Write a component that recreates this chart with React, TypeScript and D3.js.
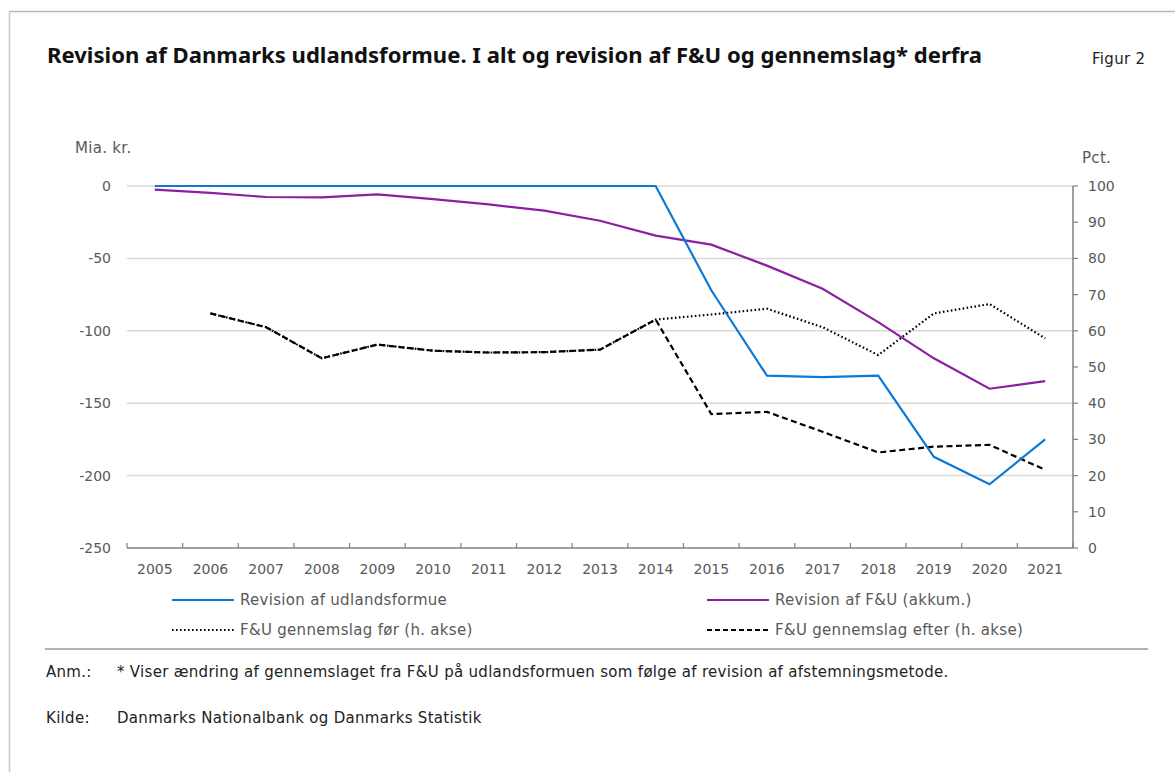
import * as d3 from "d3";

const years = [
  2005, 2006, 2007, 2008, 2009, 2010, 2011, 2012, 2013, 2014, 2015, 2016, 2017, 2018, 2019, 2020, 2021,
];

// Mia. kr. (venstre akse)
const revisionUdland = [0, 0, 0, 0, 0, 0, 0, 0, 0, 0, -72, -131, -132, -131, -187, -206, -175];
const revisionFU = [-2.5, -4.8, -7.6, -7.8, -5.8, -9, -12.7, -17, -24, -34.3, -40.5, -55, -71, -94, -119, -140, -134.7];

// Pct. (højre akse), 2005 mangler
const gennemslagFoer = [null, 64.8, 61, 52.4, 56.2, 54.5, 54, 54.1, 54.8, 63.1, 64.5, 66.1, 61, 53.3, 64.8, 67.4, 57.9];
const gennemslagEfter = [null, 64.8, 61, 52.4, 56.2, 54.5, 54, 54.1, 54.8, 63.1, 37, 37.6, 32.1, 26.4, 28, 28.5, 21.6];

const leftTicks = [0, -50, -100, -150, -200, -250];
const rightTicks = [0, 10, 20, 30, 40, 50, 60, 70, 80, 90, 100];

const FONT = "'DejaVu Sans', 'Noto Sans', sans-serif";
const TITLE_FONT = "'Noto Sans', 'Open Sans', sans-serif";
const GREY = "#595959";
const TXT = { fontSize: 15, letterSpacing: 0.3 };

export default function App() {
  const width = 1175;
  const height = 772;
  const plot = { left: 127, right: 1073, top: 186, bottom: 548 };

  const x = d3
    .scaleBand<number>()
    .domain(years)
    .range([plot.left, plot.right]);
  const cx = (yr: number) => (x(yr) ?? 0) + x.bandwidth() / 2;

  const yL = d3.scaleLinear().domain([-250, 0]).range([plot.bottom, plot.top]);
  const yR = d3.scaleLinear().domain([0, 100]).range([plot.bottom, plot.top]);

  const lineL = d3
    .line<number>()
    .x((_, i) => cx(years[i]))
    .y((d) => yL(d));
  const lineR = d3
    .line<number | null>()
    .defined((d) => d != null)
    .x((_, i) => cx(years[i]))
    .y((d) => yR(d as number));

  const boundaries = years.map((yr) => x(yr) ?? 0).concat([plot.right]);

  const legend = [
    { label: "Revision af udlandsformue", color: "#0a7ad6", dash: "", x: 172, y: 600 },
    { label: "Revision af F&U (akkum.)", color: "#8b1fa0", dash: "", x: 707, y: 600 },
    { label: "F&U gennemslag før (h. akse)", color: "#000", dash: "1.6 2.4", x: 172, y: 630 },
    { label: "F&U gennemslag efter (h. akse)", color: "#000", dash: "5 3", x: 707, y: 630 },
  ];

  return (
    <svg
      width={width}
      height={height}
      style={{ position: "absolute", left: 0, top: 0, background: "#fff" }}
      fontFamily={FONT}
    >
      {/* ramme */}
      <line x1={9.5} x2={9.5} y1={11} y2={height} stroke="#c8c8c8" strokeWidth={1.5} />
      <line x1={9} x2={width} y1={11.5} y2={11.5} stroke="#b8b8b8" strokeWidth={1.5} />

      <text
        x={47}
        y={63}
        fontSize={21}
        fontWeight={700}
        fill="#111"
        fontFamily={TITLE_FONT}
        textLength={935}
        lengthAdjust="spacingAndGlyphs"
      >
        Revision af Danmarks udlandsformue. I alt og revision af F&amp;U og gennemslag* derfra
      </text>
      <text x={1092} y={64} {...TXT} fill="#222">
        Figur 2
      </text>

      <text x={75} y={153} {...TXT} fill={GREY}>
        Mia. kr.
      </text>
      <text x={1082} y={163} {...TXT} fill={GREY}>
        Pct.
      </text>

      {/* gitterlinjer */}
      {leftTicks.slice(0, -1).map((t) => (
        <line key={t} x1={plot.left} x2={plot.right} y1={yL(t)} y2={yL(t)} stroke="#d9d9d9" strokeWidth={1.5} />
      ))}
      {leftTicks.map((t) => (
        <text key={t} x={111} y={yL(t) + 5} fontSize={14} fill={GREY} textAnchor="end">
          {t}
        </text>
      ))}

      {/* x-akse */}
      <line x1={plot.left} x2={plot.right} y1={plot.bottom} y2={plot.bottom} stroke="#7f7f7f" strokeWidth={1.5} />
      {boundaries.map((b, i) => (
        <line key={i} x1={b} x2={b} y1={plot.bottom} y2={plot.bottom - 5} stroke="#7f7f7f" strokeWidth={1.2} />
      ))}
      {years.map((yr) => (
        <text key={yr} x={cx(yr)} y={574} fontSize={14} fill={GREY} textAnchor="middle">
          {yr}
        </text>
      ))}

      {/* højre akse */}
      <line x1={plot.right} x2={plot.right} y1={plot.top} y2={plot.bottom} stroke="#7f7f7f" strokeWidth={1.5} />
      {rightTicks.map((t) => (
        <g key={t}>
          <line x1={plot.right} x2={plot.right + 5} y1={yR(t)} y2={yR(t)} stroke="#7f7f7f" strokeWidth={1.2} />
          <text x={1088} y={yR(t) + 5} fontSize={14} fill={GREY}>
            {t}
          </text>
        </g>
      ))}

      {/* serier */}
      <path d={lineR(gennemslagFoer) ?? ""} fill="none" stroke="#000" strokeWidth={2.2} strokeDasharray="1.6 2.4" />
      <path d={lineR(gennemslagEfter) ?? ""} fill="none" stroke="#000" strokeWidth={2.2} strokeDasharray="6 3.5" />
      <path d={lineL(revisionFU) ?? ""} fill="none" stroke="#8b1fa0" strokeWidth={2.2} />
      <path d={lineL(revisionUdland) ?? ""} fill="none" stroke="#0a7ad6" strokeWidth={2.2} />

      {/* legende */}
      {legend.map((l) => (
        <g key={l.label}>
          <line x1={l.x} x2={l.x + 62} y1={l.y} y2={l.y} stroke={l.color} strokeWidth={2.2} strokeDasharray={l.dash || undefined} />
          <text x={l.x + 68} y={l.y + 5} {...TXT} fill={GREY}>
            {l.label}
          </text>
        </g>
      ))}

      <line x1={45} x2={1148} y1={649} y2={649} stroke="#999" strokeWidth={1.5} />

      <text x={46} y={677} {...TXT} fill="#222">
        Anm.:
      </text>
      <text x={117} y={677} {...TXT} fill="#222">
        * Viser ændring af gennemslaget fra F&amp;U på udlandsformuen som følge af revision af afstemningsmetode.
      </text>
      <text x={46} y={723} {...TXT} fill="#222">
        Kilde:
      </text>
      <text x={117} y={723} {...TXT} fill="#222">
        Danmarks Nationalbank og Danmarks Statistik
      </text>
    </svg>
  );
}
